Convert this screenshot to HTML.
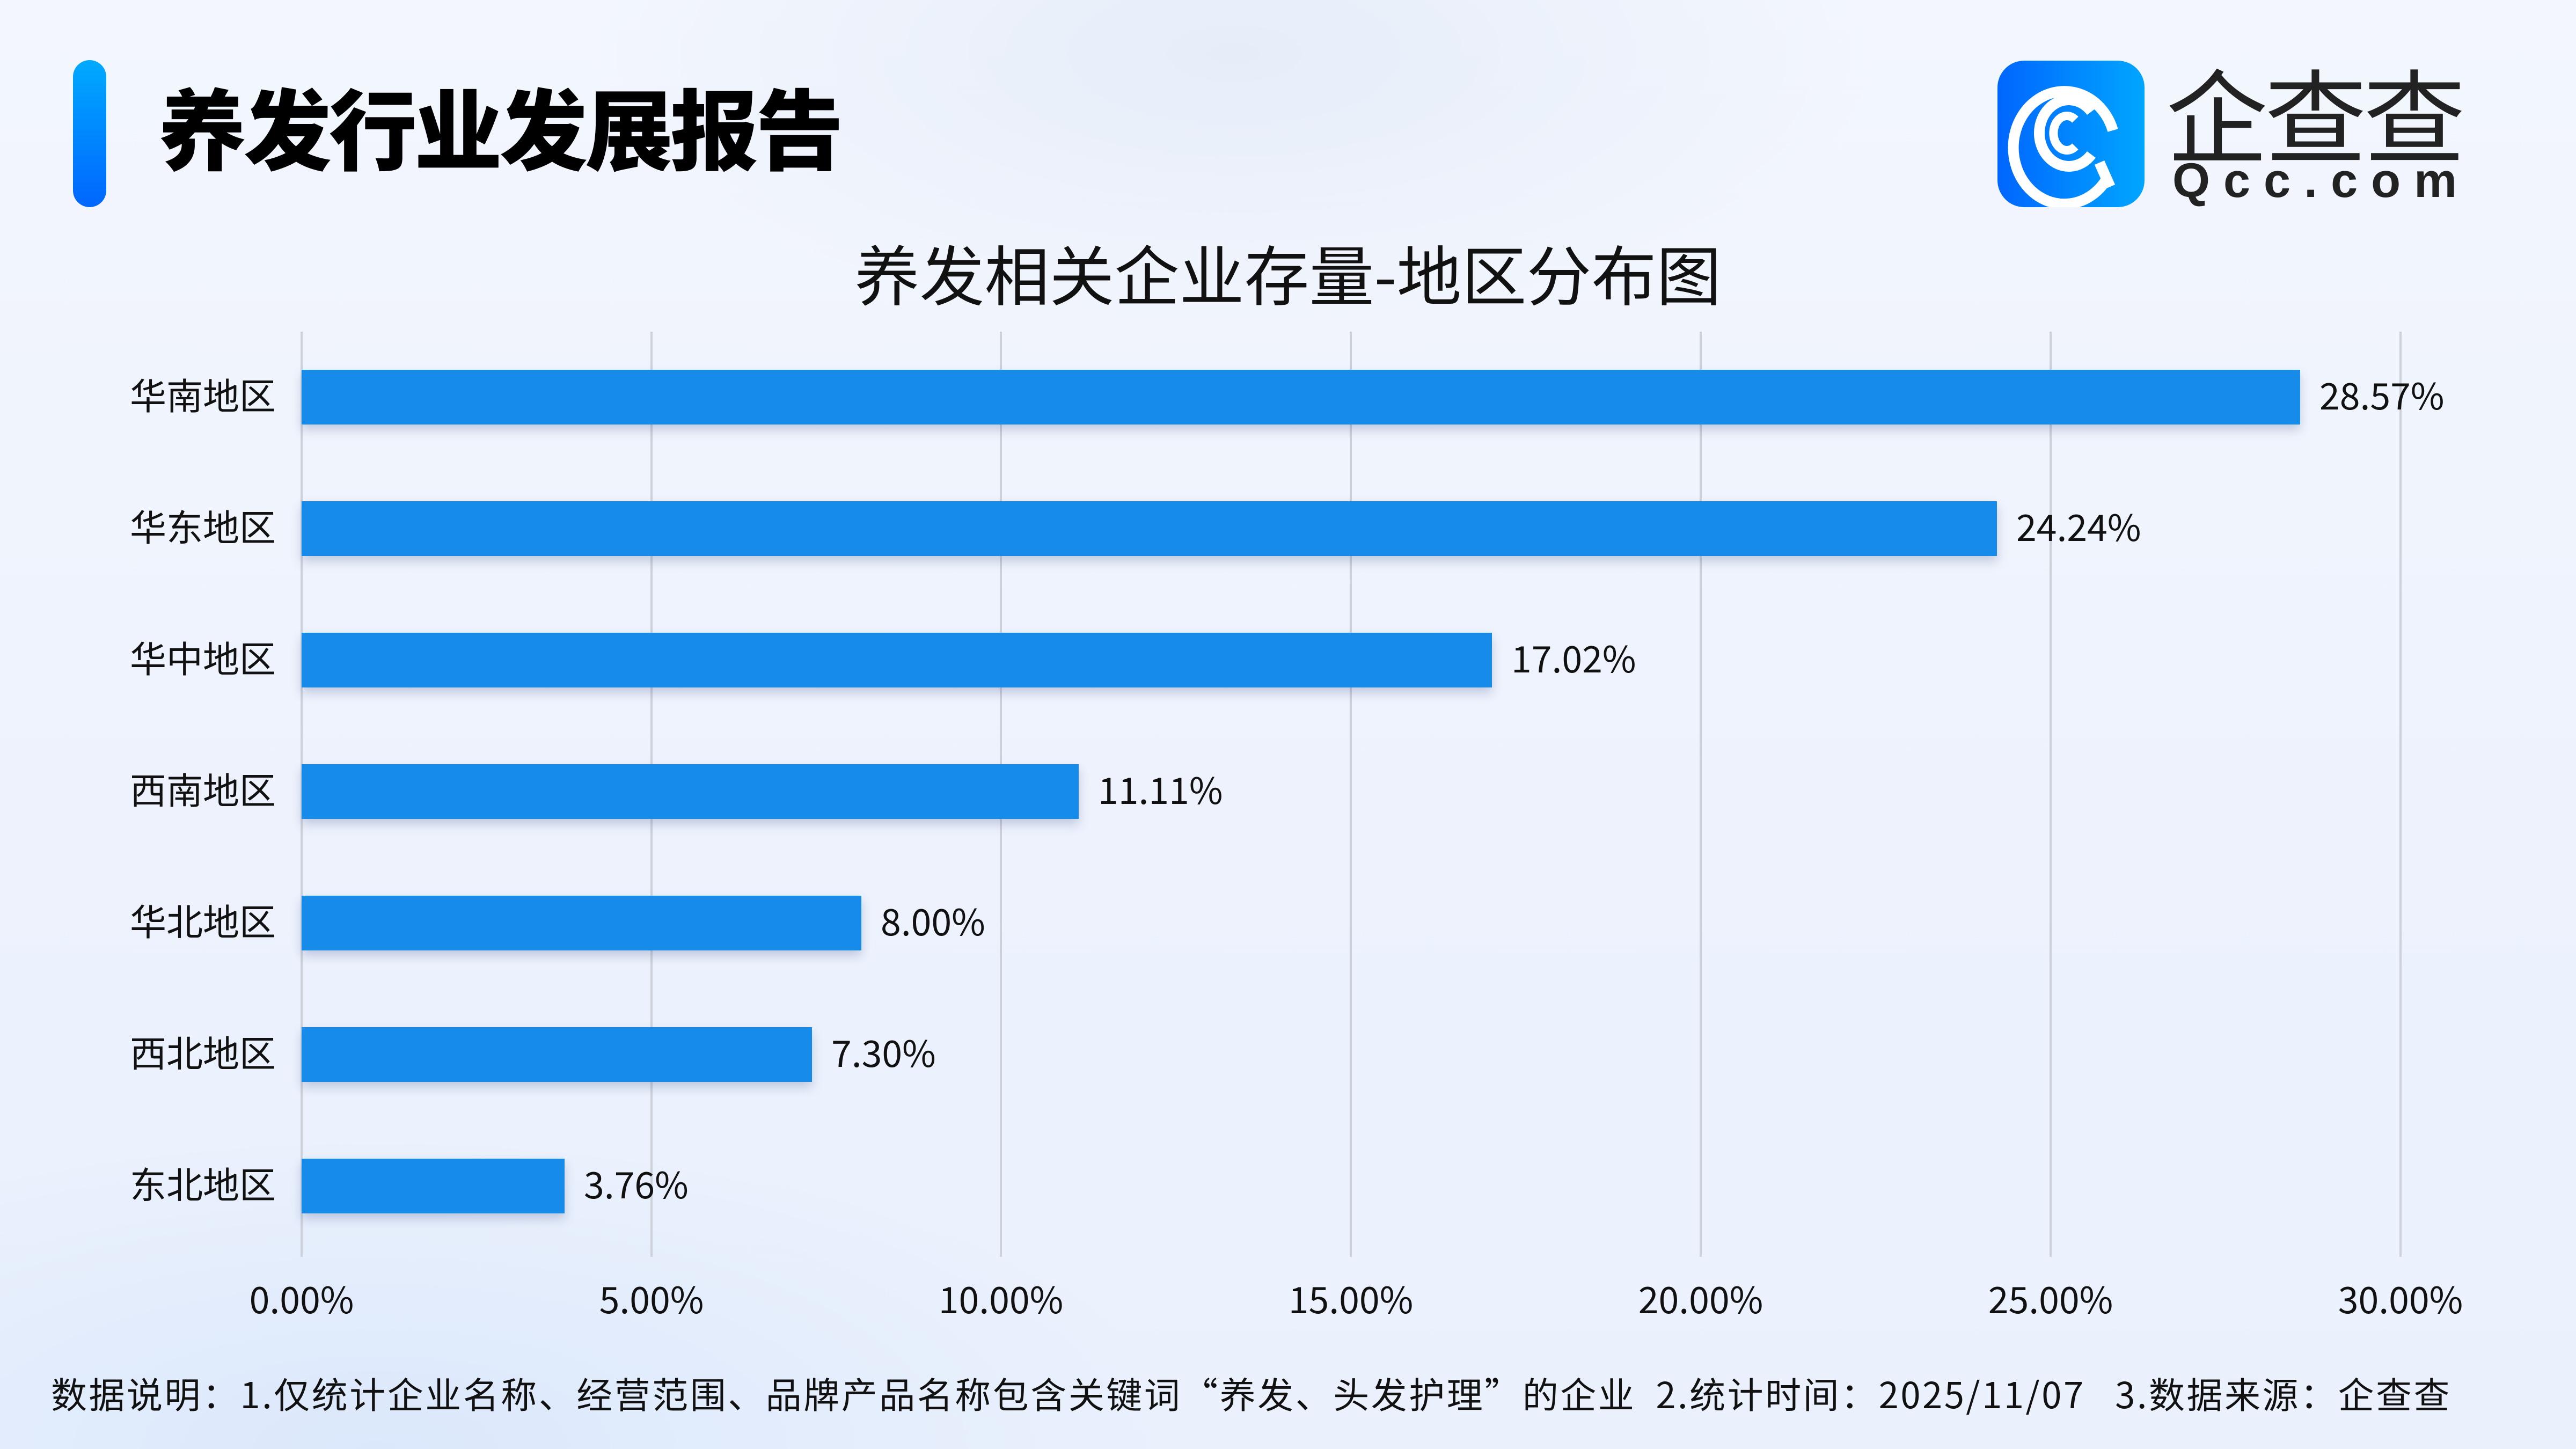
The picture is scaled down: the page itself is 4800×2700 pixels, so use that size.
<!DOCTYPE html>
<html><head><meta charset="utf-8"><style>
html,body{margin:0;padding:0}
body{width:4800px;height:2700px;position:relative;overflow:hidden;font-family:"Noto Sans CJK SC",sans-serif;
background:radial-gradient(ellipse 1200px 500px at 2300px 100px,#e6edf9 0%,rgba(230,237,249,0) 100%),radial-gradient(ellipse 1500px 600px at 700px 2700px,#dbe8fb 0%,rgba(219,232,251,0) 100%),linear-gradient(180deg,#f3f6fd 0%,#edf2fd 60%,#eaf1fd 100%);}
.abs{position:absolute}
.lab{position:absolute;right:4286px;font-size:68px;color:#111;line-height:1;white-space:nowrap}
.bar{position:absolute;left:562px;height:102px;background:#168bea;box-shadow:0 10px 18px rgba(60,80,130,0.25)}
.val{position:absolute;font-size:68px;color:#111;line-height:1;white-space:nowrap}
.grid{position:absolute;top:618px;height:1724px;width:4px;background:#cdd1da}
.tick{position:absolute;top:2384px;font-size:68px;color:#111;width:400px;text-align:center;line-height:1}
</style></head><body>
<div class="abs" style="left:136px;top:112px;width:62px;height:274px;border-radius:31px;background:linear-gradient(180deg,#00aaff,#0066ff)"></div>
<div class="abs" style="left:295px;top:152px;font-size:164px;font-weight:900;color:#000;line-height:1;letter-spacing:-5px;font-family:'Noto Sans CJK SC',sans-serif">养发行业发展报告</div>
<div class="abs" style="left:3722px;top:113px;width:274px;height:273px;border-radius:50px;background:linear-gradient(90deg,#0066ff,#00a6ff)">
<svg width="274" height="273" viewBox="0 0 274 273"><g fill="none" stroke="#fff" stroke-linecap="butt">
<path d="M205 218 A95 105 0 1 1 215 130" stroke-width="20"/>
<path d="M175 175 A55 62 0 1 1 175 95" stroke-width="20"/>
<path d="M145 160 A25 32 0 1 1 145 110" stroke-width="16"/>
<path d="M190 190 L210 235" stroke-width="20"/></g></svg></div>
<div class="abs" style="left:4036px;top:112px;font-size:190px;color:#222;line-height:1;letter-spacing:-6px;font-family:'Noto Sans CJK SC',sans-serif">企查查</div>
<div class="abs" style="left:4048px;top:292px;font-size:90px;color:#222;line-height:1;letter-spacing:25px;font-weight:bold;font-family:'Liberation Sans',sans-serif">Qcc.com</div>
<div class="abs" style="left:0;width:4800px;top:440px;text-align:center;font-size:121px;color:#111;line-height:1.1">养发相关企业存量-地区分布图</div>
<div class="grid" style="left:560px"></div><div class="grid" style="left:1212px"></div><div class="grid" style="left:1863px"></div><div class="grid" style="left:2515px"></div><div class="grid" style="left:3167px"></div><div class="grid" style="left:3819px"></div><div class="grid" style="left:4471px"></div>
<div class="bar" style="top:689px;width:3724px"></div><div class="val" style="left:4322px;top:700px">28.57%</div><div class="lab" style="top:700px">华南地区</div>
<div class="bar" style="top:934px;width:3159px"></div><div class="val" style="left:3757px;top:945px">24.24%</div><div class="lab" style="top:945px">华东地区</div>
<div class="bar" style="top:1179px;width:2218px"></div><div class="val" style="left:2816px;top:1190px">17.02%</div><div class="lab" style="top:1190px">华中地区</div>
<div class="bar" style="top:1424px;width:1448px"></div><div class="val" style="left:2046px;top:1435px">11.11%</div><div class="lab" style="top:1435px">西南地区</div>
<div class="bar" style="top:1669px;width:1043px"></div><div class="val" style="left:1641px;top:1680px">8.00%</div><div class="lab" style="top:1680px">华北地区</div>
<div class="bar" style="top:1914px;width:951px"></div><div class="val" style="left:1549px;top:1925px">7.30%</div><div class="lab" style="top:1925px">西北地区</div>
<div class="bar" style="top:2159px;width:490px"></div><div class="val" style="left:1088px;top:2170px">3.76%</div><div class="lab" style="top:2170px">东北地区</div>
<div class="tick" style="left:362px">0.00%</div><div class="tick" style="left:1014px">5.00%</div><div class="tick" style="left:1665px">10.00%</div><div class="tick" style="left:2317px">15.00%</div><div class="tick" style="left:2969px">20.00%</div><div class="tick" style="left:3621px">25.00%</div><div class="tick" style="left:4273px">30.00%</div>
<div class="abs" style="left:95px;top:2562px;font-size:67px;color:#111;line-height:1;white-space:nowrap;letter-spacing:3.5px">数据说明：1.仅统计企业名称、经营范围、品牌产品名称包含关键词“养发、头发护理”的企业&nbsp;&nbsp;2.统计时间：2025/11/07&nbsp;&nbsp;&nbsp;3.数据来源：企查查</div>
</body></html>
